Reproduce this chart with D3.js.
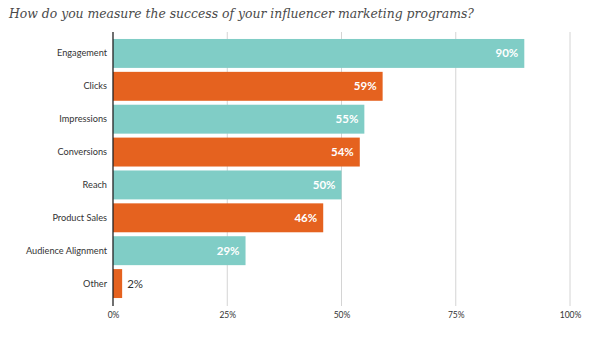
<!DOCTYPE html>
<html>
<head>
<meta charset="utf-8">
<script src="https://cdn.jsdelivr.net/npm/d3@7"></script>
<style>
  html, body { margin: 0; padding: 0; background: #fff; }
  svg { display: block; }
</style>
</head>
<body>
<svg id="chart" width="600" height="344"></svg>
<script>
const categories = ["Engagement", "Clicks", "Impressions", "Conversions", "Reach", "Product Sales", "Audience Alignment", "Other"];
const values = [90, 59, 55, 54, 50, 46, 29, 2];
const tickValues = [0, 25, 50, 75, 100];
const colors = ["#80cdc6", "#e5621f"];
const title = "How do you measure the success of your influencer marketing programs?";

const svg = d3.select("#chart");
const plotLeft = 113, plotRight = 570;
const plotTop = 37, plotBottom = 300;

svg.append("text")
  .attr("x", 9).attr("y", 18)
  .attr("font-family", "DejaVu Serif")
  .attr("font-style", "italic")
  .attr("font-size", 12.4)
  .attr("fill", "#4a4a4a")
  .text(title);

const x = d3.scaleLinear().domain([0, 100]).range([plotLeft, plotRight]);
const y = d3.scaleBand().domain(categories).range([plotTop, plotBottom]).paddingInner(0.12).paddingOuter(0.06);

// vertical grid lines
svg.append("g").selectAll("line")
  .data(tickValues.filter(d => d > 0))
  .join("line")
  .attr("x1", d => x(d)).attr("x2", d => x(d))
  .attr("y1", 32).attr("y2", 306)
  .attr("stroke", "#d4d4d4").attr("stroke-width", 1);

// bars
svg.append("g").selectAll("rect")
  .data(categories)
  .join("rect")
  .attr("x", x(0))
  .attr("y", d => y(d))
  .attr("width", (d, i) => x(values[i]) - x(0))
  .attr("height", y.bandwidth())
  .attr("fill", (d, i) => colors[i % 2]);

// value labels
svg.append("g").selectAll("text")
  .data(categories)
  .join("text")
  .attr("x", (d, i) => values[i] > 10 ? x(values[i]) - 6 : x(values[i]) + 5)
  .attr("y", d => y(d) + y.bandwidth() / 2 + 4)
  .attr("text-anchor", (d, i) => values[i] > 10 ? "end" : "start")
  .attr("font-family", "Lato")
  .attr("font-weight", (d, i) => values[i] > 10 ? "bold" : "normal")
  .attr("font-size", 11.5)
  .attr("fill", (d, i) => values[i] > 10 ? "#fff" : "#333")
  .text((d, i) => values[i] + "%");

// category axis
const yAxis = svg.append("g")
  .attr("transform", `translate(${plotLeft},0)`)
  .call(d3.axisLeft(y).tickSize(0).tickPadding(6));
yAxis.select(".domain").remove();
yAxis.selectAll("text")
  .attr("font-family", "Lato")
  .attr("font-size", 9.2)
  .attr("fill", "#333");

svg.append("line")
  .attr("x1", plotLeft).attr("x2", plotLeft)
  .attr("y1", 32).attr("y2", 306)
  .attr("stroke", "#222").attr("stroke-width", 1.3);

// percentage axis
const xAxis = svg.append("g")
  .attr("transform", `translate(0,304)`)
  .call(d3.axisBottom(x).tickValues(tickValues).tickFormat(d => d + "%").tickSize(0).tickPadding(8));
xAxis.select(".domain").remove();
xAxis.selectAll("text")
  .attr("font-family", "Lato")
  .attr("font-size", 8.5)
  .attr("fill", "#333");
</script>
</body>
</html>
